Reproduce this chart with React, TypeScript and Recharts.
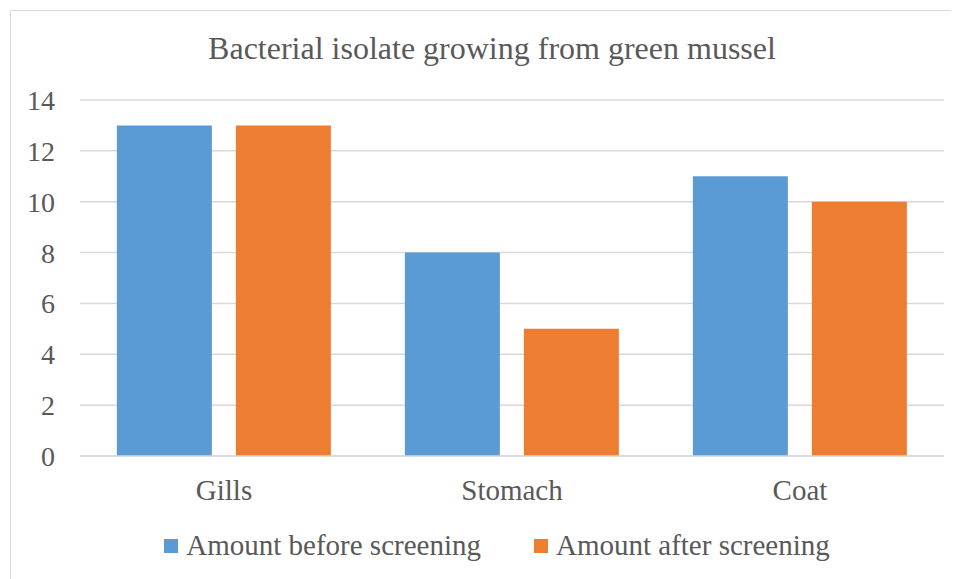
import { BarChart, Bar, XAxis, YAxis, CartesianGrid } from 'recharts';

const categories = ['Gills', 'Stomach', 'Coat'];
const beforeScreening = [13, 8, 11];
const afterScreening = [13, 5, 10];
const yTicks = [0, 2, 4, 6, 8, 10, 12, 14];

const BLUE = '#5B9BD5';
const ORANGE = '#ED7D31';
const TEXT = '#595959';
const FONT = 'Times New Roman, Liberation Serif, Tinos, Noto Serif, DejaVu Serif, serif';

const data = categories.map((name, i) => ({
  name,
  before: beforeScreening[i],
  after: afterScreening[i],
}));

const legendItems = [
  { label: 'Amount before screening', color: BLUE },
  { label: 'Amount after screening', color: ORANGE },
];

export default function App() {
  return (
    <div style={{ paddingLeft: 2, paddingTop: 2 }}>
      <div
        style={{
          position: 'relative',
          width: 960,
          height: 580,
          borderTop: '1.5px solid #d9d9d9',
          borderLeft: '1.5px solid #d9d9d9',
          background: '#fff',
          boxSizing: 'border-box',
        }}
      >
        <div
          style={{
            position: 'absolute',
            left: 0,
            width: 962,
            top: 19,
            textAlign: 'center',
            fontFamily: FONT,
            fontSize: 32,
            color: TEXT,
          }}
        >
          Bacterial isolate growing from green mussel
        </div>
        <BarChart
          width={958}
          height={578}
          data={data}
          margin={{ top: 89, right: 25, bottom: 83, left: 14 }}
          barCategoryGap="12.8%"
          barGap={24}
        >
          <CartesianGrid vertical={false} stroke="#d9d9d9" strokeWidth={1.5} />
          <XAxis
            dataKey="name"
            axisLine={{ stroke: '#d9d9d9', strokeWidth: 1.5 }}
            tickLine={false}
            tickMargin={17}
            height={50}
            tick={{ fill: TEXT, fontFamily: FONT, fontSize: 29 }}
          />
          <YAxis
            domain={[0, 14]}
            ticks={yTicks}
            width={55}
            axisLine={false}
            tickLine={false}
            tickMargin={19}
            tick={{ fill: TEXT, fontFamily: FONT, fontSize: 28 }}
          />
          <Bar dataKey="before" name="Amount before screening" fill={BLUE} isAnimationActive={false} />
          <Bar dataKey="after" name="Amount after screening" fill={ORANGE} isAnimationActive={false} />
        </BarChart>
        <div
          style={{
            position: 'absolute',
            top: 518,
            left: 0,
            width: 972,
            display: 'flex',
            justifyContent: 'center',
            gap: 53,
            fontFamily: FONT,
            fontSize: 29,
            color: TEXT,
          }}
        >
          {legendItems.map((item) => (
            <div key={item.label} style={{ display: 'flex', alignItems: 'center', gap: 8 }}>
              <div style={{ width: 14, height: 14, background: item.color }} />
              <span>{item.label}</span>
            </div>
          ))}
        </div>
      </div>
    </div>
  );
}
